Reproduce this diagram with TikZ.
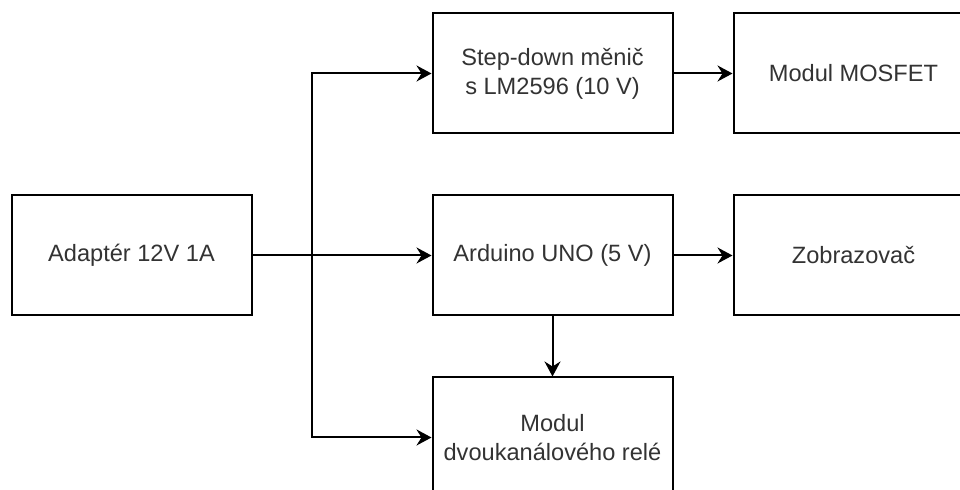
\documentclass[tikz,border=0pt]{standalone}
\usepackage{fontspec}
\setmainfont{Liberation Sans}
\usepackage{tikz}
\usepackage{xcolor}
\usetikzlibrary{
  positioning,
  arrows.meta,
  calc,
}
\definecolor{cText}  {HTML}{333333}
\definecolor{cLine}  {HTML}{000000}

\begin{document}
\begin{tikzpicture}[
  x=0.5pt, y=-0.5pt,
  >={Stealth[length=7.5pt, width=8pt, inset=2.5pt]},
  every node/.style={align=center, text=cText},
  %
  blockbox/.style={
    draw=cLine, fill=white, line width=1pt,
    minimum width=120pt, minimum height=60pt,
    inner sep=2pt,
    font=\fontsize{11.8}{14.5}\selectfont,
  },
  arr/.style={->, line width=1pt, draw=cLine},
]

% ────────────── CANVAS ─────────────────────────────────────────────────────
\useasboundingbox (0,0) rectangle (960,490);

% ────────────── SOURCE (left) ──────────────────────────────────────────────
\node[blockbox] (adapter) at (131.5,255.5) {Adaptér 12V 1A};

% ────────────── MIDDLE COLUMN ──────────────────────────────────────────────
\node[blockbox, right=89.5pt of adapter]   (arduino)  {Arduino UNO (5 V)};
\node[blockbox, above=30pt of arduino]     (stepdown) {Step-down měnič\\s LM2596 (10 V)};
\node[blockbox, below=30pt of arduino]     (rele)     {Modul\\dvoukanálového relé};

% ────────────── RIGHT COLUMN ───────────────────────────────────────────────
\node[blockbox, right=29.5pt of stepdown]  (mosfet)   {Modul MOSFET};
\node[blockbox, right=29.5pt of arduino]   (display)  {Zobrazovač};

% ────────────── ARROWS — adapter feeds all three ───────────────────────────
\coordinate (split) at ($(adapter.east)+(59,0)$);
\draw[arr] (adapter.east) -- (arduino.west);
\draw[arr] (split) |- (stepdown.west);
\draw[arr] (split) |- (rele.west);

% ────────────── ARROWS — onward ────────────────────────────────────────────
\draw[arr] (stepdown.east) -- (mosfet.west);
\draw[arr] (arduino.east) -- (display.west);
\draw[arr] (arduino.south) -- (rele.north);

\end{tikzpicture}
\end{document}
